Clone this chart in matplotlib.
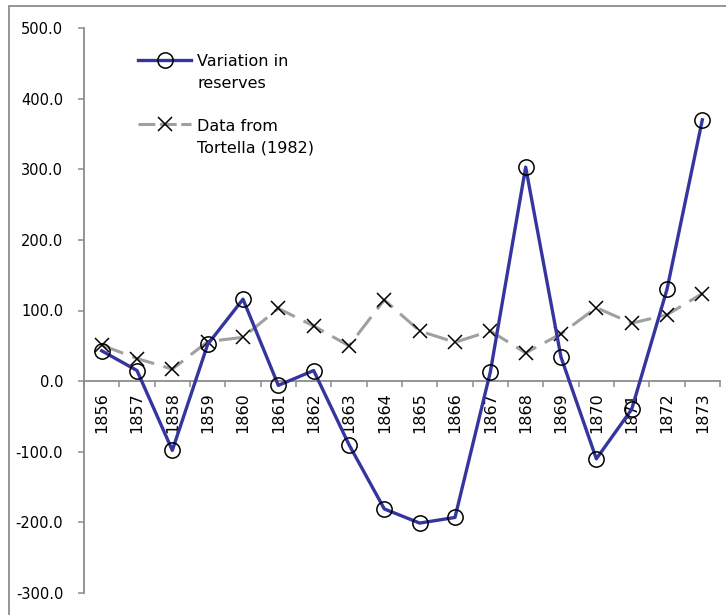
import matplotlib
matplotlib.use("Agg")
import matplotlib.pyplot as plt
from matplotlib.lines import Line2D
from matplotlib.patches import Rectangle
from matplotlib.ticker import FixedLocator, FuncFormatter, MultipleLocator, NullFormatter

years = ["1856", "1857", "1858", "1859", "1860", "1861", "1862", "1863", "1864",
         "1865", "1866", "1867", "1868", "1869", "1870", "1871", "1872", "1873"]
reserves = [43, 15, -98, 52, 116, -6, 15, -90, -181, -201, -193, 13, 303, 34, -110, -40, 130, 370]
tortella = [51, 32, 17, 56, 62, 103, 78, 50, 115, 71, 55, 71, 40, 67, 104, 82, 94, 124]

label_reserves = "Variation in\nreserves"
label_tortella = "Data from\nTortella (1982)"

W, H = 726, 615
fig = plt.figure(figsize=(W / 100, H / 100), dpi=100)
fig.patch.set_facecolor("white")

# outer chart frame
fig.add_artist(Rectangle((9 / W, -0.1), 1.2, 1 - 6 / H + 0.1, transform=fig.transFigure,
                         fill=False, edgecolor="#8c8c8c", lw=1.3))

left, right, top, bottom = 84, 720, 28, 593
ax = fig.add_axes([left / W, 1 - bottom / H, (right - left) / W, (bottom - top) / H])

blue = "#3535a0"
gray = "#a0a0a0"
axis_gray = "#8c8c8c"

gray_style = dict(color=gray, lw=2.2, dashes=(7.5, 3.2), marker="x", markersize=10,
                  markeredgecolor="black", markeredgewidth=1.1, dash_capstyle="butt")
blue_style = dict(color=blue, lw=2.4, marker="o", markersize=11, markerfacecolor="none",
                  markeredgecolor="black", markeredgewidth=1.1)

x = list(range(len(years)))
ax.plot(x, tortella, zorder=3, **gray_style)
ax.plot(x, reserves, zorder=4, **blue_style)

ax.set_xlim(-0.5, len(years) - 0.5)
ax.set_ylim(-300, 500)

for s in ["top", "right"]:
    ax.spines[s].set_visible(False)
ax.spines["bottom"].set_position(("data", 0))
for s in ["left", "bottom"]:
    ax.spines[s].set_color(axis_gray)
    ax.spines[s].set_linewidth(1.3)

ax.yaxis.set_major_locator(MultipleLocator(100))
ax.yaxis.set_major_formatter(FuncFormatter(lambda v, p: f"{v:.1f}"))
ax.tick_params(axis="y", direction="out", length=4.5, width=1.1, color=axis_gray,
               pad=10.5, labelsize=10.5, labelcolor="black")

ax.xaxis.set_major_locator(FixedLocator(x))
ax.set_xticklabels(years, rotation=90, va="top", ha="center")
ax.xaxis.set_minor_locator(FixedLocator([i - 0.5 for i in range(len(years) + 1)]))
ax.xaxis.set_minor_formatter(NullFormatter())
ax.tick_params(axis="x", which="major", length=0, pad=8, labelsize=11.5, labelcolor="black")
ax.tick_params(axis="x", which="minor", direction="out", length=4.5, width=1.1, color=axis_gray)


def fx(px):
    return px / W


def fy(py):
    return 1 - py / H


# legend entries, handle aligned with the first text line
legend_gray = dict(gray_style, dashes=(5.5, 1.5))
entries = [(60, 85, blue_style, label_reserves), (124, 150, legend_gray, label_tortella)]
for y1, y2, style, text in entries:
    fig.add_artist(Line2D([fx(138), fx(164.5), fx(191)], [fy(y1)] * 3, transform=fig.transFigure,
                          markevery=[1], **style))
    fig.text(fx(197), fy((y1 + y2) / 2), text, ha="left", va="center", fontsize=11.5,
             linespacing=1.55, color="black")

fig.savefig("out.png", dpi=100)
